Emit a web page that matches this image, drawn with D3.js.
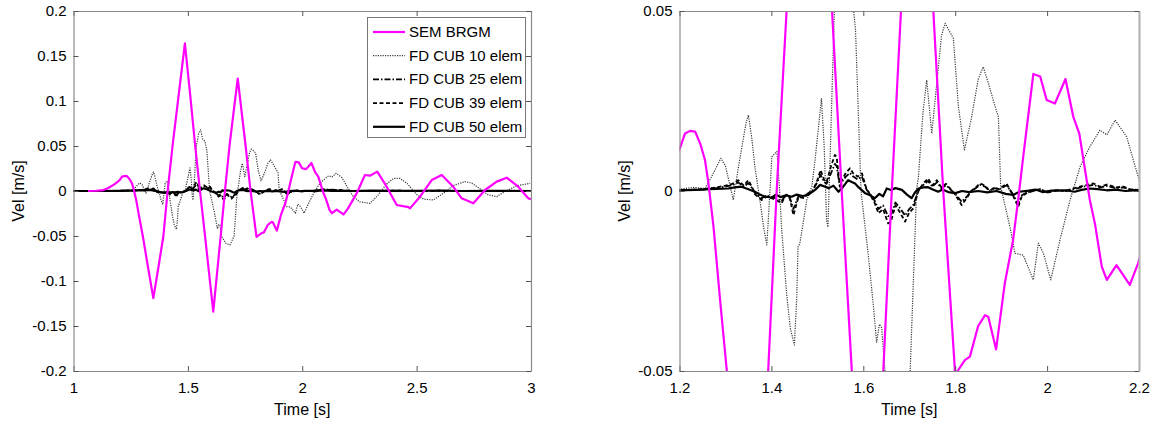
<!DOCTYPE html>
<html><head><meta charset="utf-8">
<script src="https://cdn.jsdelivr.net/npm/d3@7"></script>
<style>
body{margin:0;background:#fff;}
text{font-family:"Liberation Sans",Arial,Helvetica,sans-serif;fill:#000;}
</style></head><body>
<svg id="c" width="1156" height="425"></svg>
<script>
// ---------------- data ----------------
const seriesNames = ["SEM BRGM", "FD CUB 10 elem", "FD CUB 25 elem", "FD CUB 39 elem", "FD CUB 50 elem"];

// [time (s), velocity (m/s)]
const semBRGM = [[1.063,0],[1.10,0.0003],[1.13,0.001],[1.15,0.003],[1.175,0.0068],[1.19,0.0095],[1.201,0.0119],[1.212,0.016],[1.223,0.0167],[1.234,0.0165],[1.245,0.0132],[1.2555,0.0086],[1.263,0.0021],[1.274,-0.0099],[1.288,-0.0298],[1.303,-0.05],[1.326,-0.085],[1.349,-0.119],[1.371,-0.085],[1.393,-0.05],[1.4115,0.0],[1.433,0.05],[1.46,0.107],[1.487,0.164],[1.51,0.107],[1.532,0.05],[1.553,0.0],[1.575,-0.05],[1.593,-0.092],[1.611,-0.134],[1.6435,-0.05],[1.662,0.0],[1.682,0.05],[1.70,0.088],[1.718,0.125],[1.7524,0.05],[1.774,0.0],[1.80,-0.051],[1.821,-0.047],[1.832,-0.046],[1.850,-0.0375],[1.865,-0.0345],[1.872,-0.0349],[1.889,-0.044],[1.908,-0.0256],[1.926,-0.0136],[1.937,-0.0025],[1.948,0.0095],[1.970,0.0325],[1.985,0.0318],[1.999,0.0253],[2.017,0.0243],[2.040,0.0311],[2.057,0.0206],[2.070,0.016],[2.093,-0.0025],[2.104,-0.009],[2.119,-0.021],[2.130,-0.0247],[2.151,-0.0206],[2.180,-0.0261],[2.198,-0.0201],[2.238,-0.0026],[2.274,0.0178],[2.296,0.017],[2.328,0.0215],[2.369,0.0048],[2.413,-0.0156],[2.464,-0.018],[2.471,-0.0193],[2.515,-0.0063],[2.566,0.0122],[2.610,0.0178],[2.660,0.0048],[2.697,-0.0081],[2.748,-0.0137],[2.799,0.0011],[2.850,0.0104],[2.894,0.0148],[2.944,0.0048],[2.988,-0.0081],[3.0,-0.009]];

const fdCub10 = [[1.0,0],[1.15,0],[1.2,0.0005],[1.23,0.001],[1.2555,0.0007],[1.27,0.004],[1.29,0.0091],[1.30,0.007],[1.317,-0.0025],[1.33,0.008],[1.345,0.019],[1.350,0.0211],[1.357,0.015],[1.364,0.0068],[1.375,-0.0025],[1.383,-0.01],[1.390,-0.015],[1.396,-0.002],[1.401,0.0095],[1.412,0.011],[1.417,0.002],[1.422,-0.0099],[1.433,-0.0284],[1.441,-0.038],[1.450,-0.0428],[1.455,-0.03],[1.458,-0.0155],[1.462,-0.0145],[1.477,-0.0025],[1.488,0.0012],[1.495,0.0086],[1.509,0.0257],[1.515,0.012],[1.520,-0.008],[1.523,-0.01],[1.528,0.01],[1.537,0.05],[1.548,0.065],[1.556,0.068],[1.564,0.058],[1.575,0.055],[1.583,0.045],[1.595,0.0],[1.611,-0.018],[1.622,-0.032],[1.629,-0.042],[1.635,-0.037],[1.640,-0.038],[1.647,-0.05],[1.665,-0.058],[1.684,-0.06],[1.695,-0.054],[1.702,-0.05],[1.716,0.0003],[1.720,0.004],[1.730,0.022],[1.738,0.0308],[1.749,0.016],[1.760,0.03],[1.770,0.043],[1.778,0.0466],[1.796,0.0424],[1.807,0.0234],[1.820,0.0114],[1.835,0.02],[1.850,0.031],[1.861,0.0345],[1.872,0.03],[1.887,0.0234],[1.894,0.0206],[1.899,0.0012],[1.919,-0.0099],[1.930,-0.0173],[1.948,-0.0178],[1.970,-0.0247],[1.981,-0.0145],[1.992,-0.0173],[2.008,-0.0247],[2.028,-0.0136],[2.050,-0.0025],[2.072,0.0068],[2.093,0.0123],[2.115,0.0169],[2.130,0.0156],[2.148,0.0197],[2.173,0.0151],[2.198,0.004],[2.22,-0.005],[2.25,-0.012],[2.296,-0.0137],[2.33,-0.005],[2.37,0.008],[2.40,0.014],[2.427,0.0141],[2.46,0.008],[2.50,-0.004],[2.53,-0.009],[2.573,-0.01],[2.62,-0.002],[2.66,0.006],[2.711,0.0104],[2.74,0.009],[2.78,0.002],[2.81,-0.004],[2.850,-0.0063],[2.89,0.0],[2.94,0.006],[2.996,0.0085]];

const fdCub25 = [[1.0,0],[1.2,0.0002],[1.25,0.0004],[1.28,0.0008],[1.30,0.0012],[1.315,0.0016],[1.328,0.0024],[1.34,0.0012],[1.350,0.0022],[1.358,0.0008],[1.365,-0.0008],[1.379,-0.002],[1.39,-0.0012],[1.40,-0.0018],[1.41,-0.002],[1.422,-0.0028],[1.432,-0.001],[1.440,-0.0018],[1.448,-0.005],[1.459,-0.0014],[1.47,-0.0016],[1.48,-0.0006],[1.49,0.0002],[1.50,0.0025],[1.507,0.0045],[1.515,0.0025],[1.52,0.002],[1.53,0.005],[1.538,0.0075],[1.542,0.007],[1.549,0.0012],[1.553,0.0025],[1.562,0.004],[1.571,0.005],[1.578,0.004],[1.588,0.0032],[1.597,0.004],[1.607,0.0004],[1.615,-0.0008],[1.625,-0.0028],[1.633,-0.005],[1.643,-0.004],[1.654,-0.007],[1.660,-0.0068],[1.670,-0.0032],[1.680,-0.0048],[1.691,-0.0068],[1.700,-0.005],[1.709,-0.0038],[1.720,0.0002],[1.730,0.0016],[1.741,0.0028],[1.750,0.0012],[1.760,0.0024],[1.770,0.0008],[1.780,0.0016],[1.790,0.0004],[1.800,-0.0008],[1.814,-0.003],[1.825,-0.0016],[1.835,0.0],[1.845,0.0008],[1.854,0.0017],[1.865,0.0012],[1.875,0.0],[1.885,0.0008],[1.895,0.0004],[1.912,0.0016],[1.925,-0.0008],[1.937,-0.0035],[1.945,-0.0012],[1.955,-0.0005],[1.97,0.0],[1.985,0.0005],[2.0,-0.0004],[2.02,0.0002],[2.04,0.0],[2.06,0.0006],[2.08,0.0012],[2.101,0.0017],[2.115,0.001],[2.13,0.0014],[2.15,0.0008],[2.166,0.001],[2.18,0.0004],[2.2,0.0002],[2.3,0.0],[2.4,0.0003],[2.5,0.0],[2.6,0.0002],[2.7,0.0],[2.8,0.0002],[2.9,0],[3.0,0]];

const fdCub39 = [[1.0,0],[1.2,0.0002],[1.25,0.0005],[1.28,0.001],[1.30,0.0015],[1.315,0.002],[1.328,0.003],[1.34,0.0015],[1.350,0.003],[1.358,0.001],[1.365,-0.001],[1.379,-0.0025],[1.39,-0.0015],[1.40,-0.002],[1.41,-0.0025],[1.422,-0.0034],[1.432,-0.001],[1.440,-0.002],[1.448,-0.0067],[1.459,-0.0016],[1.47,-0.002],[1.48,-0.0008],[1.49,0.0],[1.50,0.003],[1.507,0.0058],[1.515,0.003],[1.52,0.0025],[1.53,0.007],[1.538,0.01],[1.542,0.0095],[1.549,0.0012],[1.553,0.003],[1.562,0.005],[1.571,0.0063],[1.578,0.0049],[1.588,0.004],[1.597,0.0049],[1.607,0.0005],[1.615,-0.001],[1.625,-0.0034],[1.633,-0.0062],[1.643,-0.005],[1.654,-0.009],[1.660,-0.0085],[1.670,-0.004],[1.680,-0.006],[1.691,-0.0085],[1.700,-0.006],[1.709,-0.0048],[1.720,0.0],[1.730,0.002],[1.741,0.0035],[1.750,0.0015],[1.760,0.003],[1.770,0.001],[1.780,0.002],[1.790,0.0005],[1.800,-0.001],[1.814,-0.0039],[1.825,-0.002],[1.835,0.0],[1.845,0.001],[1.854,0.0021],[1.865,0.0015],[1.875,0.0],[1.885,0.001],[1.895,0.0005],[1.912,0.002],[1.925,-0.001],[1.937,-0.0044],[1.945,-0.0015],[1.955,-0.0006],[1.97,0.0],[1.985,0.0006],[2.0,-0.0005],[2.02,0.0002],[2.04,0.0],[2.06,0.0008],[2.08,0.0015],[2.101,0.0021],[2.115,0.0012],[2.13,0.0018],[2.15,0.001],[2.166,0.0012],[2.18,0.0005],[2.2,0.0003],[2.3,0.0],[2.4,0.0004],[2.5,0.0],[2.6,0.0003],[2.7,0.0],[2.8,0.0002],[2.9,0],[3.0,0]];

const fdCub50 = [[1.0,0],[1.1,0],[1.2,0.0002],[1.25,0.0004],[1.263,0.0005],[1.28,0.0006],[1.306,0.0007],[1.32,0.001],[1.335,0.0012],[1.35,0.0005],[1.364,-0.0002],[1.375,-0.001],[1.386,-0.0016],[1.401,-0.0018],[1.41,-0.001],[1.42,-0.0017],[1.432,-0.0012],[1.444,-0.0016],[1.455,-0.001],[1.468,-0.0014],[1.480,-0.0011],[1.495,0.0003],[1.506,0.0017],[1.517,0.0012],[1.525,0.0008],[1.535,0.0015],[1.546,-0.0002],[1.555,0.001],[1.567,0.003],[1.575,0.0025],[1.582,0.0021],[1.590,0.001],[1.604,-0.0006],[1.615,-0.0012],[1.625,-0.002],[1.635,-0.0008],[1.643,-0.0015],[1.651,0.0007],[1.660,0.0003],[1.670,0.0008],[1.684,0.0003],[1.695,-0.001],[1.705,-0.002],[1.712,-0.0005],[1.720,0.0007],[1.730,0.001],[1.740,0.0011],[1.750,0.0005],[1.763,-0.0002],[1.772,0.0004],[1.785,-0.0003],[1.800,-0.0006],[1.815,0.0],[1.83,-0.0003],[1.85,0.0],[1.87,-0.0004],[1.89,0.0],[1.91,-0.0008],[1.926,-0.0011],[1.94,-0.0002],[1.96,0.0001],[1.975,0.0004],[1.99,-0.0003],[2.01,0.0001],[2.04,0.0002],[2.06,-0.0002],[2.075,0.0003],[2.093,0.0007],[2.11,0.0005],[2.13,0.0002],[2.15,0.0004],[2.17,0.0],[2.19,0.0002],[2.22,0],[2.3,0.0005],[2.4,0.0001],[2.5,0.0003],[2.6,0.0004],[2.7,0.0],[2.8,0.0002],[2.9,0.0002],[3.0,0.0]];

// tick values / labels
const leftXTicks = [1, 1.5, 2, 2.5, 3];
const leftXLabels = ["1", "1.5", "2", "2.5", "3"];
const leftYTicks = [-0.2, -0.15, -0.1, -0.05, 0, 0.05, 0.1, 0.15, 0.2];
const leftYLabels = ["-0.2", "-0.15", "-0.1", "-0.05", "0", "0.05", "0.1", "0.15", "0.2"];
const rightXTicks = [1.2, 1.4, 1.6, 1.8, 2.0, 2.2];
const rightXLabels = ["1.2", "1.4", "1.6", "1.8", "2", "2.2"];
const rightYTicks = [-0.05, 0, 0.05];
const rightYLabels = ["-0.05", "0", "0.05"];

// ---------------- drawing ----------------
const svg = d3.select("#c");
const seriesData = [semBRGM, fdCub10, fdCub25, fdCub39, fdCub50];
const styles = [
  {stroke:"#ff00ff", width:2.2, dash:null},
  {stroke:"#3a3a3a", width:1.2, dash:"1.2,1.2"},
  {stroke:"#000", width:1.8, dash:"6,2,1.5,2"},
  {stroke:"#000", width:1.8, dash:"4,2.5"},
  {stroke:"#000", width:2.2, dash:null}
];
const drawOrder = [1, 2, 3, 4, 0];

function panel(cfg, id) {
  const x = d3.scaleLinear().domain(cfg.xd).range([cfg.x0, cfg.x1]);
  const y = d3.scaleLinear().domain(cfg.yd).range([cfg.y1, cfg.y0]);
  const g = svg.append("g");
  g.append("clipPath").attr("id", "clip" + id)
    .append("rect").attr("x", cfg.x0).attr("y", cfg.y0)
    .attr("width", cfg.x1 - cfg.x0).attr("height", cfg.y1 - cfg.y0);

  const line = d3.line().x(d => x(d[0])).y(d => y(d[1]));
  const lg = g.append("g").attr("clip-path", `url(#clip${id})`);
  drawOrder.forEach(i => {
    const s = styles[i];
    lg.append("path").datum(seriesData[i])
      .attr("d", line).attr("fill", "none")
      .attr("stroke", s.stroke).attr("stroke-width", s.width)
      .attr("stroke-dasharray", s.dash)
      .attr("stroke-linejoin", "round");
  });

  const axStyle = sel => {
    sel.selectAll(".domain").attr("stroke", "#8a8a8a").attr("stroke-width", 1.2);
    sel.selectAll(".tick line").attr("stroke", "#555");
    sel.selectAll(".tick text").attr("font-size", 15)
      .attr("font-family", '"Liberation Sans", Arial, sans-serif').attr("fill", "#000");
  };
  const fmt = (ticks, labels) => v => labels[ticks.findIndex(t => Math.abs(t - v) < 1e-9)];

  g.append("g").attr("transform", `translate(0,${cfg.y1})`)
    .call(d3.axisBottom(x).tickValues(cfg.xt).tickFormat(fmt(cfg.xt, cfg.xl))
      .tickSizeInner(-5).tickSizeOuter(0).tickPadding(11)).call(axStyle);
  g.append("g").attr("transform", `translate(0,${cfg.y0})`)
    .call(d3.axisTop(x).tickValues(cfg.xt).tickFormat("")
      .tickSizeInner(-5).tickSizeOuter(0)).call(axStyle);
  g.append("g").attr("transform", `translate(${cfg.x0},0)`)
    .call(d3.axisLeft(y).tickValues(cfg.yt).tickFormat(fmt(cfg.yt, cfg.yl))
      .tickSizeInner(-5).tickSizeOuter(0).tickPadding(7)).call(axStyle);
  const ra = g.append("g").attr("transform", `translate(${cfg.x1},0)`)
    .call(d3.axisRight(y).tickValues(cfg.yt).tickFormat("")
      .tickSizeInner(-5).tickSizeOuter(0)).call(axStyle);
  if (cfg.rightThick) ra.select(".domain").attr("stroke", "#b5b5b5").attr("stroke-width", 2.2);

  g.append("text").attr("x", (cfg.x0 + cfg.x1) / 2).attr("y", 415)
    .attr("text-anchor", "middle").attr("font-size", 16).text("Time [s]");
  g.append("text")
    .attr("transform", `translate(${cfg.ylx},${(cfg.y0 + cfg.y1) / 2}) rotate(-90)`)
    .attr("text-anchor", "middle").attr("font-size", 16).text("Vel [m/s]");
  return {x, y, g};
}

panel({xd:[1,3], yd:[-0.2,0.2], x0:73.5, x1:531, y0:11, y1:371,
  xt:leftXTicks, xl:leftXLabels, yt:leftYTicks, yl:leftYLabels, ylx:24}, "L");
panel({xd:[1.2,2.2], yd:[-0.05,0.05], x0:679.5, x1:1139, y0:11, y1:371,
  xt:rightXTicks, xl:rightXLabels, yt:rightYTicks, yl:rightYLabels, ylx:630, rightThick:true}, "R");

// legend
const leg = svg.append("g");
leg.append("rect").attr("x", 367.5).attr("y", 17.5).attr("width", 158).attr("height", 120)
  .attr("fill", "#fff").attr("stroke", "#777").attr("stroke-width", 1);
seriesNames.forEach((n, i) => {
  const yy = 32 + i * 23.7;
  const s = styles[i];
  leg.append("line").attr("x1", 373).attr("x2", 405).attr("y1", yy).attr("y2", yy)
    .attr("stroke", s.stroke).attr("stroke-width", s.width).attr("stroke-dasharray", s.dash);
  leg.append("text").attr("x", 409).attr("y", yy + 5).attr("font-size", 15).text(n);
});
</script>
</body></html>
